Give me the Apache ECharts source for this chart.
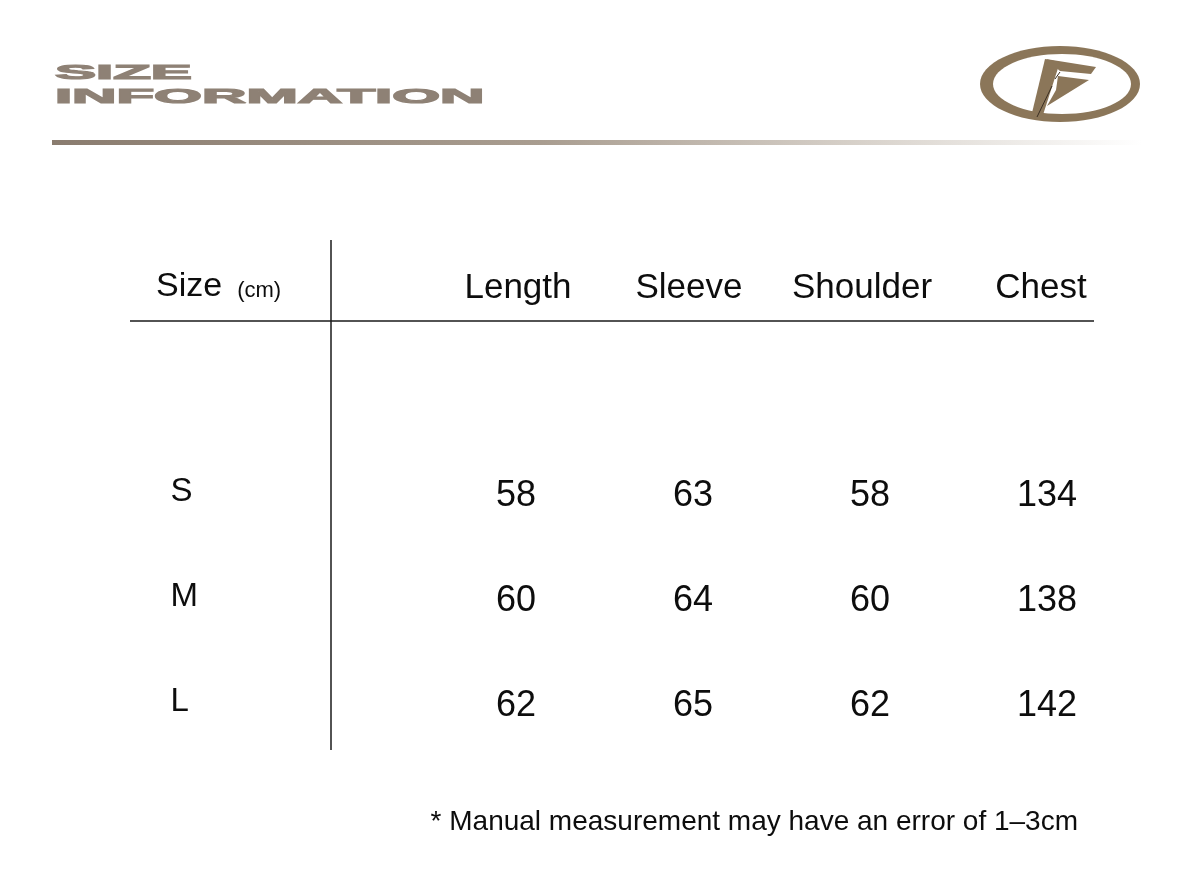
<!DOCTYPE html>
<html>
<head>
<meta charset="utf-8">
<script src="https://cdn.jsdelivr.net/npm/echarts@6/dist/echarts.min.js"></script>
<style>html,body{margin:0;padding:0;background:#fff}#c{width:1200px;height:880px}</style>
</head>
<body>
<div id="c"></div>
<script>
var columns = ['Length', 'Sleeve', 'Shoulder', 'Chest'];
var sizes = ['S', 'M', 'L'];
var lengthVals = [58, 60, 62];
var sleeveVals = [63, 64, 65];
var shoulderVals = [58, 60, 62];
var chestVals = [134, 138, 142];
var titleLines = ['SIZE', 'INFORMATION'];
var noteText = '* Manual measurement may have an error of 1\u20133cm';

var colValues = [lengthVals, sleeveVals, shoulderVals, chestVals];
var cells = [];
colValues.forEach(function (vals, ci) {
  vals.forEach(function (v, ri) { cells.push([ci, ri, v]); });
});

var FONT = 'Liberation Sans';
var TITLE_COLOR = '#8e8175';
var LOGO = '#8b7659';
var INK = '#0d0d0d';

// header nudges (style only)
var headRich = {
  h0: {fontSize: 35, fontFamily: FONT, color: INK, padding: [0, 0, 0, 4]},
  h1: {fontSize: 35, fontFamily: FONT, color: INK, padding: [0, 8, 0, 0]},
  h2: {fontSize: 35, fontFamily: FONT, color: INK, padding: [0, 16, 0, 0]},
  h3: {fontSize: 35, fontFamily: FONT, color: INK, padding: [0, 12, 0, 0]}
};

var chart = echarts.init(document.getElementById('c'), null, {renderer: 'canvas'});
chart.setOption({
  backgroundColor: '#ffffff',
  animation: false,
  grid: {left: 427.5, right: 64.5, top: 443.5, bottom: 121.5},
  xAxis: {
    type: 'category', data: columns, position: 'top',
    axisLine: {show: false}, axisTick: {show: false}, splitLine: {show: false},
    axisLabel: {margin: 155, verticalAlign: 'middle', rich: headRich,
      formatter: function (v, i) { return '{h' + i + '|' + v + '}'; }}
  },
  yAxis: {
    type: 'category', data: sizes, inverse: true,
    axisLine: {show: false}, axisTick: {show: false}, splitLine: {show: false},
    axisLabel: {fontSize: 33, color: INK, fontFamily: FONT, align: 'left', margin: 257, verticalAlign: 'bottom', lineHeight: 8}
  },
  series: [{
    type: 'scatter', data: cells, symbolSize: 0, silent: true,
    itemStyle: {opacity: 1},
    label: {show: true, position: 'inside', formatter: function (p) { return p.value[2]; },
      fontSize: 36, color: INK, fontFamily: FONT, opacity: 1}
  }],
  graphic: [
    {type: 'text', x: 55, y: 63, scaleX: 2.93, style: {text: titleLines[0], fontSize: 21, fontWeight: 'bold', fontFamily: FONT, fill: TITLE_COLOR, stroke: TITLE_COLOR, lineWidth: 1.2, textVerticalAlign: 'top'}},
    {type: 'text', x: 55, y: 87, scaleX: 2.93, style: {text: titleLines[1], fontSize: 21, fontWeight: 'bold', fontFamily: FONT, fill: TITLE_COLOR, stroke: TITLE_COLOR, lineWidth: 1.2, textVerticalAlign: 'top'}},
    {type: 'rect', shape: {x: 52, y: 140, width: 1090, height: 5},
      style: {fill: new echarts.graphic.LinearGradient(0, 0, 1, 0, [
        {offset: 0, color: '#8a7c6f'}, {offset: 0.45, color: '#a99d90'}, {offset: 0.75, color: '#d9d3cc'}, {offset: 1, color: '#ffffff'}])}},
    // logo
    {type: 'ellipse', shape: {cx: 1060, cy: 84, rx: 80, ry: 38}, style: {fill: LOGO}},
    {type: 'ellipse', shape: {cx: 1062, cy: 84, rx: 69, ry: 30}, style: {fill: '#ffffff'}},
    {type: 'polygon', shape: {points: [[1046, 59], [1096, 67], [1091, 74], [1060, 71]]}, style: {fill: LOGO}},
    {type: 'polygon', shape: {points: [[1045, 59], [1060, 62], [1042, 118], [1031, 117]]}, style: {fill: LOGO}},
    {type: 'polygon', shape: {points: [[1058, 76], [1089, 80], [1047, 106], [1056, 90]]}, style: {fill: LOGO}},
    {type: 'line', shape: {x1: 1052, y1: 86, x2: 1037, y2: 117}, style: {stroke: '#3a2e22', lineWidth: 1}},
    {type: 'line', shape: {x1: 1060, y1: 72, x2: 1055, y2: 79}, style: {stroke: '#3a2e22', lineWidth: 1}},
    // table lines
    {type: 'line', shape: {x1: 130, y1: 321, x2: 1094, y2: 321}, style: {stroke: '#1a1a1a', lineWidth: 1.5}},
    {type: 'line', shape: {x1: 331, y1: 240, x2: 331, y2: 750}, style: {stroke: '#1a1a1a', lineWidth: 1.5}},
    // header
    {type: 'text', x: 156, y: 287, style: {text: '{a|Size}{b|(cm)}', textVerticalAlign: 'middle',
      rich: {a: {fontSize: 34, fontFamily: FONT, fill: INK, color: INK}, b: {fontSize: 22, fontFamily: FONT, fill: INK, color: INK, padding: [8, 0, 0, 15]}}}},
    {type: 'text', x: 1078, y: 822, style: {text: noteText, fontSize: 28, fontFamily: FONT, fill: INK, textAlign: 'right', textVerticalAlign: 'middle'}}
  ]
});
</script>
</body>
</html>
